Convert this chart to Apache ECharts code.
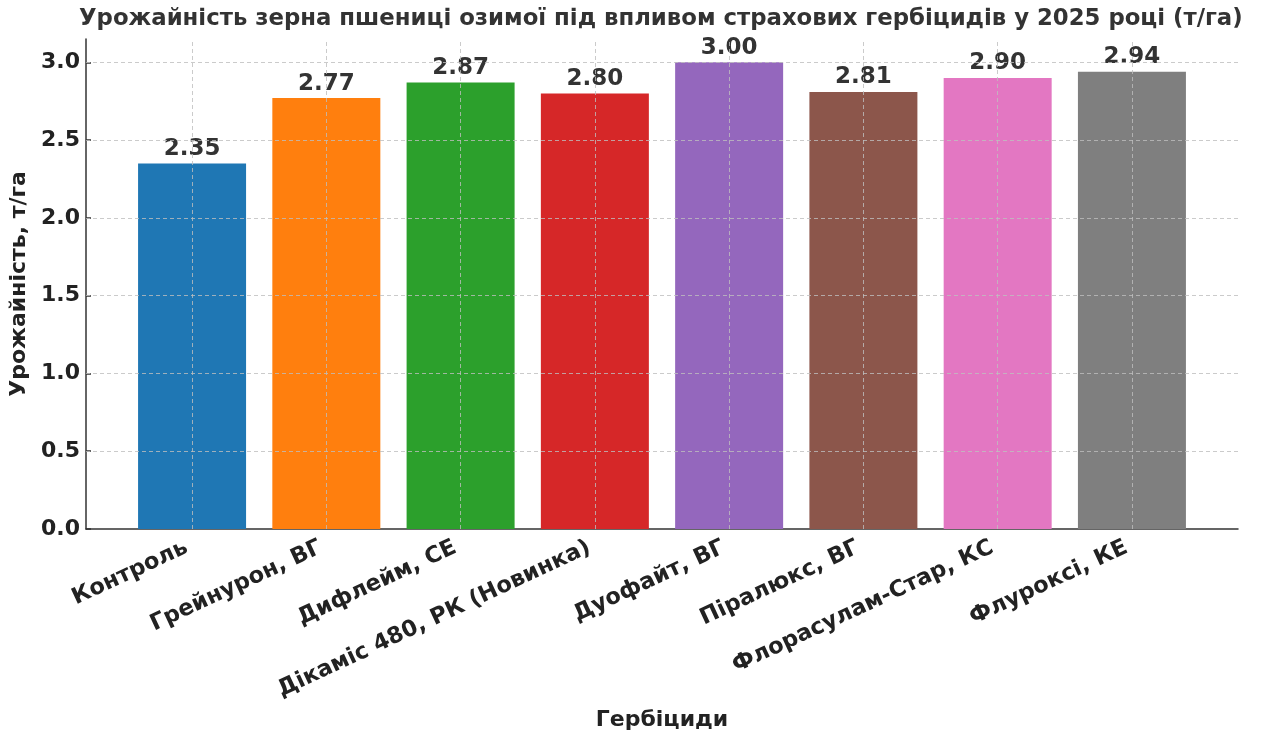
<!DOCTYPE html>
<html>
<head>
<meta charset="utf-8">
<script src="https://cdn.jsdelivr.net/npm/echarts@6/dist/echarts.min.js"></script>
<style>
  html, body { margin: 0; padding: 0; background: #fff; }
  #main { width: 1261px; height: 733px; }
</style>
</head>
<body>
<div id="main"></div>
<script>
// data
const categories = ['Контроль', 'Грейнурон, ВГ', 'Дифлейм, СЕ', 'Дікаміс 480, РК (Новинка)',
  'Дуофайт, ВГ', 'Піралюкс, ВГ', 'Флорасулам-Стар, КС', 'Флуроксі, КЕ']
const yields = [2.35, 2.77, 2.87, 2.80, 3.00, 2.81, 2.90, 2.94]
const yTicks = [0, 0.5, 1.0, 1.5, 2.0, 2.5, 3.0]
const colors = ['#1f77b4', '#ff7f0e', '#2ca02c', '#d62728', '#9467bd', '#8c564b', '#e377c2', '#7f7f7f']

const idx = categories.map((c, i) => i)
const font = 'DejaVu Sans'

var myChart = echarts.init(document.getElementById('main'))

myChart.setOption({
  animation: false,
  title: {
    text: 'Урожайність зерна пшениці озимої під впливом страхових гербіцидів у 2025 році (т/га)',
    left: 74,
    top: 3,
    textStyle: { fontFamily: font, fontWeight: 'bold', fontSize: 22.8, color: '#333' }
  },
  grid: { left: 86, right: 23, top: 39, bottom: 204, containLabel: false, outerBoundsMode: 'none' },
  xAxis: {
    type: 'value',
    min: -0.79,
    max: 7.79,
    name: 'Гербіциди',
    nameLocation: 'middle',
    nameGap: 180,
    nameTextStyle: { fontFamily: font, fontWeight: 'bold', fontSize: 22, color: '#222' },
    axisLine: { show: true, onZero: false, lineStyle: { color: '#333', width: 1.5 } },
    axisTick: { show: true, inside: true, length: 5, customValues: idx, lineStyle: { color: '#333', width: 1.5 } },
    axisLabel: {
      customValues: idx,
      rotate: 25,
      margin: 15,
      padding: [0, 6, 0, 0],
      formatter: v => categories[Math.round(v)],
      fontFamily: font, fontWeight: 'bold', fontSize: 22.5, color: '#222'
    },
    splitLine: { show: false }
  },
  yAxis: {
    type: 'value',
    min: 0,
    max: 3.15,
    name: 'Урожайність, т/га',
    nameLocation: 'middle',
    nameGap: 48,
    nameRotate: 90,
    nameTextStyle: { fontFamily: font, fontWeight: 'bold', fontSize: 22, color: '#222' },
    axisLine: { show: true, onZero: false, lineStyle: { color: '#333', width: 1.5 } },
    axisTick: { show: true, inside: true, length: 5, customValues: yTicks, lineStyle: { color: '#333', width: 1.5 } },
    axisLabel: {
      customValues: yTicks,
      margin: 6,
      formatter: v => v.toFixed(1),
      fontFamily: font, fontWeight: 'bold', fontSize: 22, color: '#222'
    },
    splitLine: { show: false }
  },
  series: [{
    type: 'bar',
    barWidth: 108,
    data: yields.map((v, i) => [i, v]),
    itemStyle: { color: p => colors[p.dataIndex] },
    label: {
      show: true,
      position: 'top',
      distance: 3,
      formatter: p => p.value[1].toFixed(2),
      fontFamily: font, fontWeight: 'bold', fontSize: 23, color: '#333'
    },
    markLine: {
      silent: true,
      symbol: 'none',
      label: { show: false },
      lineStyle: { type: [4, 3], color: 'rgba(190,190,190,0.8)', width: 1 },
      data: idx.map(i => ({ xAxis: i })).concat(yTicks.slice(1).map(v => ({ yAxis: v })))
    }
  }]
})
</script>
</body>
</html>
